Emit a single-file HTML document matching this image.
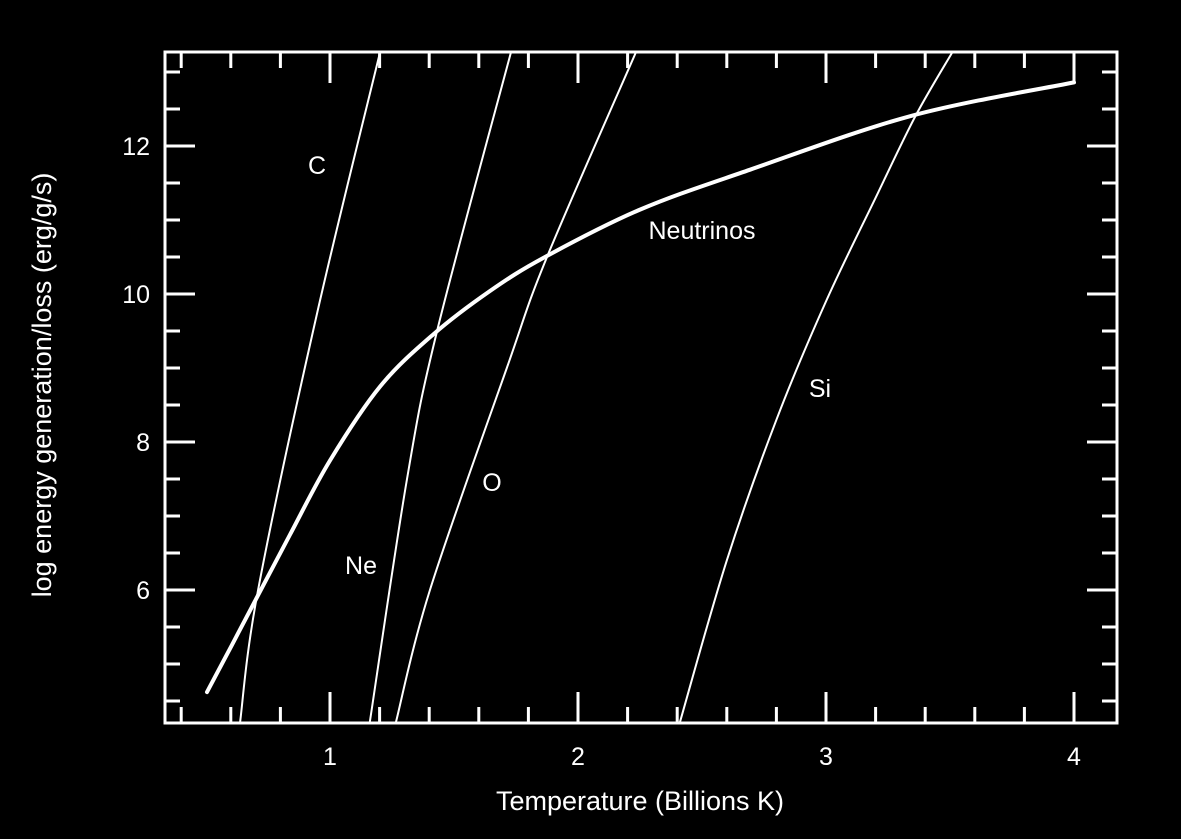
<!DOCTYPE html>
<html><head><meta charset="utf-8"><style>
html,body{margin:0;padding:0;background:#000;}
svg{display:block;font-family:"Liberation Sans",sans-serif;}
</style></head><body>
<svg id="chart" width="1181" height="839" viewBox="0 0 1181 839" xmlns="http://www.w3.org/2000/svg">
<rect width="1181" height="839" fill="#000"/>
<g id="ticks"></g>
<g id="series"></g>
<rect x="165" y="52" width="952" height="671" fill="none" stroke="#fff" stroke-width="3"/>
<g id="labels" fill="#fff" font-size="25">
<text x="317" y="174" text-anchor="middle">C</text>
<text x="361" y="574" text-anchor="middle">Ne</text>
<text x="492" y="491" text-anchor="middle">O</text>
<text x="702" y="239" text-anchor="middle">Neutrinos</text>
<text x="820" y="397" text-anchor="middle">Si</text>
</g>
<text x="640" y="810" fill="#fff" font-size="27" text-anchor="middle">Temperature (Billions K)</text>
<text x="0" y="0" fill="#fff" font-size="27" text-anchor="middle" transform="translate(51,385) rotate(-90)">log energy generation/loss (erg/g/s)</text>
</svg>
<script>
const xTickLabels = [1, 2, 3, 4];
const yTickLabels = [6, 8, 10, 12];
const neutrinoT = [0.504, 0.605, 0.71, 0.839, 1.0, 1.202, 1.415, 1.645, 1.867, 2.25, 2.694, 3.347, 4.0];
const neutrinoV = [4.62, 5.26, 5.93, 6.75, 7.75, 8.75, 9.45, 10.04, 10.5, 11.14, 11.68, 12.41, 12.86];
const carbonT = [0.637, 0.71, 0.948, 1.202];
const carbonV = [4.2, 6.0, 9.74, 13.3];
const neonT = [1.16, 1.31, 1.431, 1.73];
const neonV = [4.2, 7.49, 9.49, 13.3];
const oxygenT = [1.265, 1.403, 1.714, 1.875, 2.234];
const oxygenV = [4.2, 6.0, 9.01, 10.5, 13.3];
const siliconT = [2.41, 2.6, 2.8, 3.0, 3.2, 3.36, 3.51];
const siliconV = [4.2, 6.4, 8.3, 9.9, 11.3, 12.4, 13.3];

const NS = 'http://www.w3.org/2000/svg';
const X0 = 165, X1 = 1117, Y0 = 723, Y1 = 52;
function xs(t){ return 82 + (t) * 248; }
function ys(v){ return 146 + (12 - v) * 74; }
function clampY(y){ return Math.max(Y1, Math.min(Y0, y)); }

const ticks = document.getElementById('ticks');
function line(x1,y1,x2,y2,name){
  const l = document.createElementNS(NS,'line');
  l.setAttribute('x1',x1); l.setAttribute('y1',y1); l.setAttribute('x2',x2); l.setAttribute('y2',y2);
  l.setAttribute('stroke','#fff'); l.setAttribute('stroke-width','3');
  
  
  ticks.appendChild(l);
}
for (let i = 2; i <= 20; i++) {
  const t = i * 0.2; const x = xs(t);
  if (x < X0 || x > X1) continue;
  const major = Math.abs(t - Math.round(t)) < 1e-6;
  const len = major ? 31 : 16;
  line(x, Y0, x, Y0 - len, 'x-tick');
  line(x, Y1, x, Y1 + len, 'x-tick-top');
}
for (let i = 8; i <= 27; i++) {
  const v = i * 0.5; const y = ys(v);
  if (y < Y1 || y > Y0) continue;
  const major = Math.abs(v % 2) < 1e-6;
  const len = major ? 30 : 15;
  line(X0, y, X0 + len, y, 'y-tick');
  line(X1, y, X1 - len, y, 'y-tick-right');
}
const svg = document.getElementById('chart');
xTickLabels.forEach(v => {
  const t = document.createElementNS(NS,'text');
  t.setAttribute('x', xs(v)); t.setAttribute('y', 765);
  t.setAttribute('fill','#fff'); t.setAttribute('font-size','25'); t.setAttribute('text-anchor','middle');
  
  
  t.textContent = v; svg.appendChild(t);
});
yTickLabels.forEach(v => {
  const t = document.createElementNS(NS,'text');
  t.setAttribute('x', 150); t.setAttribute('y', ys(v) + 9);
  t.setAttribute('fill','#fff'); t.setAttribute('font-size','25'); t.setAttribute('text-anchor','end');
  
  
  t.textContent = v; svg.appendChild(t);
});

function smoothPath(T, V){
  const p = T.map((t,i)=>[xs(t), clampY(ys(V[i]))]);
  let d = 'M' + p[0][0] + ',' + p[0][1];
  for (let i = 0; i < p.length - 1; i++) {
    const a = p[i-1] || p[i], b = p[i], c = p[i+1], e = p[i+2] || c;
    const c1 = [b[0] + (c[0]-a[0])/6, b[1] + (c[1]-a[1])/6];
    const c2 = [c[0] - (e[0]-b[0])/6, c[1] - (e[1]-b[1])/6];
    d += ' C' + c1[0] + ',' + c1[1] + ' ' + c2[0] + ',' + c2[1] + ' ' + c[0] + ',' + c[1];
  }
  return d;
}
const series = document.getElementById('series');
function addCurve(T, V, w, name){
  const p = document.createElementNS(NS,'path');
  p.setAttribute('d', smoothPath(T, V));
  p.setAttribute('fill','none'); p.setAttribute('stroke','#fff');
  p.setAttribute('stroke-width', w); p.setAttribute('stroke-linecap','round');
  
  
  series.appendChild(p);
}
addCurve(carbonT, carbonV, 2, 'carbon-line');
addCurve(neonT, neonV, 2, 'neon-line');
addCurve(oxygenT, oxygenV, 2, 'oxygen-line');
addCurve(siliconT, siliconV, 2, 'silicon-line');
addCurve(neutrinoT, neutrinoV, 4, 'neutrino-line');
</script>
</body></html>
